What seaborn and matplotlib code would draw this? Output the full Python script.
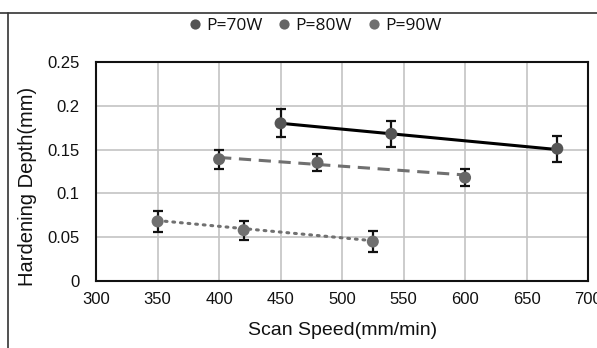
import matplotlib
matplotlib.use("Agg")
import matplotlib.pyplot as plt
import seaborn as sns
import pandas as pd
import numpy as np
from matplotlib.lines import Line2D

sns.set_theme(style="whitegrid")
plt.rcParams['font.family'] = ['Liberation Sans', 'DejaVu Sans']

series = ["P=70W", "P=80W", "P=90W"]
speed_70 = [450, 540, 675]
depth_70 = [0.180, 0.168, 0.151]
err_70 = [0.016, 0.015, 0.015]
speed_80 = [400, 480, 600]
depth_80 = [0.139, 0.135, 0.118]
err_80 = [0.011, 0.010, 0.010]
speed_90 = [350, 420, 525]
depth_90 = [0.068, 0.058, 0.045]
err_90 = [0.012, 0.011, 0.012]
trend_70 = [0.180, 0.150]
trend_80 = [0.141, 0.121]
trend_90 = [0.069, 0.046]

speeds = [speed_70, speed_80, speed_90]
depths = [depth_70, depth_80, depth_90]
errs = [err_70, err_80, err_90]
trends = [trend_70, trend_80, trend_90]
marker_colors = ["#555555", "#666666", "#707070"]
line_colors = ["#000000", "#707070", "#707070"]
line_styles = ["-", (0, (4, 2.5)), (0, (0.6, 1.9))]

df = pd.DataFrame({
    "speed": sum(speeds, []),
    "depth": sum(depths, []),
    "series": sum([[s] * 3 for s in series], []),
})

fig = plt.figure(figsize=(5.97, 3.48), dpi=100)
ax = fig.add_axes([0.161, 0.1925, 0.824, 0.6295])

for i in range(3):
    ax.plot([speeds[i][0], speeds[i][-1]], trends[i], color=line_colors[i],
            linestyle=line_styles[i], linewidth=2.2, zorder=2,
            dash_capstyle="round" if i == 2 else "butt")
    ax.errorbar(speeds[i], depths[i], yerr=errs[i], fmt="none", ecolor="#111111",
                elinewidth=1.6, capsize=3.5, capthick=1.6, zorder=3)

sns.scatterplot(data=df, x="speed", y="depth", hue="series",
                palette=dict(zip(series, marker_colors)), s=75,
                edgecolor="none", ax=ax, zorder=4, legend=True)

ax.set_xlim(300, 700)
ax.set_ylim(0, 0.25)
ax.set_xticks([300, 350, 400, 450, 500, 550, 600, 650, 700])
ax.set_xticklabels(["300", "350", "400", "450", "500", "550", "600", "650", "700"])
ax.set_yticks([0, 0.05, 0.1, 0.15, 0.2, 0.25])
ax.set_yticklabels(["0", "0.05", "0.1", "0.15", "0.2", "0.25"])
ax.tick_params(axis="both", labelsize=12, colors="#111111", length=0)
ax.tick_params(axis="y", pad=12)
ax.tick_params(axis="x", pad=8)
ax.grid(True, color="#c4c4c4", linewidth=1.2)
for sp in ax.spines.values():
    sp.set_visible(True)
    sp.set_color("#111111")
    sp.set_linewidth(1.5)
ax.set_xlabel("Scan Speed(mm/min)", fontsize=14, color="#111111")
ax.set_ylabel("Hardening Depth(mm)", fontsize=14.5, color="#111111")
ax.xaxis.set_label_coords(0.5, -0.185)
ax.yaxis.set_label_coords(-0.12, 0.43)

handles, labels = ax.get_legend_handles_labels()
leg = ax.legend(handles, labels, loc="center", bbox_to_anchor=(0.444, 1.165),
                ncol=3, frameon=False, handletextpad=0.25, handlelength=0.8,
                columnspacing=0.85, markerscale=0.85,
                prop={"family": ["Open Sans", "DejaVu Sans"], "size": 12.5})
for t in leg.get_texts():
    t.set_color("#111111")

fig.add_artist(Line2D([0, 1], [1 - 13 / 348, 1 - 13 / 348], transform=fig.transFigure,
                      color="#333333", linewidth=1.2))
fig.add_artist(Line2D([8 / 597, 8 / 597], [0, 1 - 13 / 348], transform=fig.transFigure,
                      color="#333333", linewidth=1.2))

fig.savefig("out.png", dpi=100)
